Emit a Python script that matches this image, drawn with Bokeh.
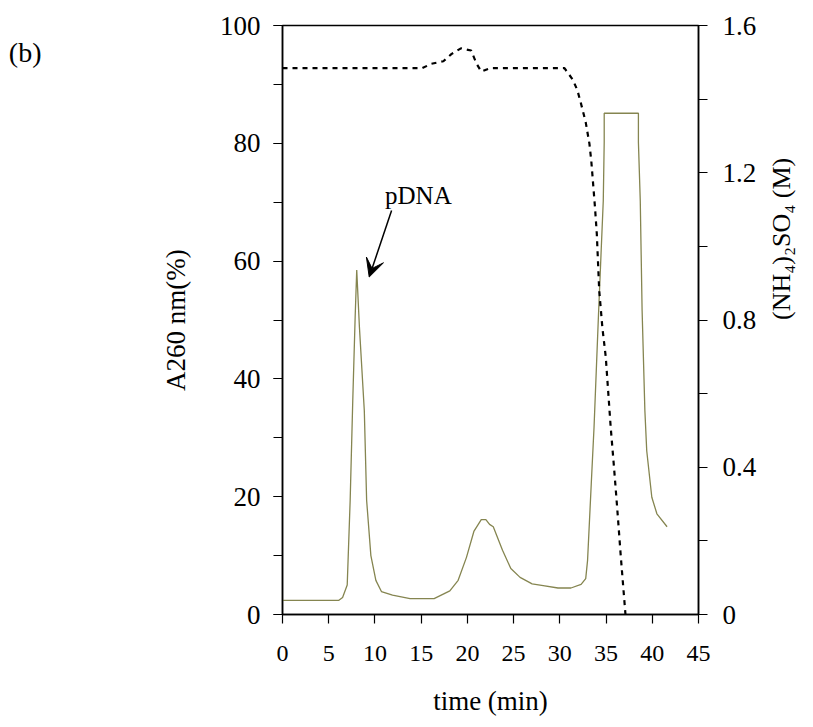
import math
from bokeh.plotting import figure
from bokeh.models import (Range1d, LinearAxis, SingleIntervalTicker, FixedTicker,
                          Label, Arrow, VeeHead)
from bokeh.embed import file_html
from bokeh.resources import INLINE

# ---- data ----
# A260 absorbance trace (%), left axis
a260_time = [0, 6.1, 6.5, 7.0, 7.32, 7.6, 7.86, 8.03, 8.32, 8.85, 9.1, 9.56, 10.1, 10.7,
             11.9, 13.8, 16.4, 18.1, 19.0, 19.9, 20.7, 21.5, 22.0, 22.4, 22.8, 23.8,
             24.7, 25.7, 27.0, 28.2, 29.8, 31.2, 32.3, 32.8, 33.0, 33.4, 33.7, 34.2,
             34.7, 34.8, 34.8, 38.5, 38.5, 38.7, 38.9, 39.2, 39.4, 39.95, 40.5, 41.6]
a260_value = [2.4, 2.4, 2.9, 5.0, 19.4, 36.3, 50.5, 58.5, 48.8, 34.6, 19.4, 10.0, 5.8, 3.9,
              3.3, 2.7, 2.7, 4.0, 5.8, 9.7, 14.1, 16.1, 16.1, 15.3, 14.9, 10.9,
              7.8, 6.3, 5.2, 4.9, 4.5, 4.5, 5.1, 6.1, 9.2, 22.2, 31.8, 51.6,
              70.3, 80.2, 85.1, 85.1, 80.2, 70.3, 51.6, 34.6, 27.8, 19.9, 17.1, 14.9]

# (NH4)2SO4 gradient (M), right axis
salt_time = [0, 15.1, 16.1, 17.4, 18.3, 19.3, 20.4, 21.0, 21.5, 22.5, 30.5, 31.4, 31.9,
             32.3, 32.8, 33.2, 33.4, 33.6, 33.8, 34.0, 34.26, 34.6, 34.97, 35.3, 35.5,
             35.86, 36.2, 36.6, 37.1]
salt_value = [1.484, 1.484, 1.496, 1.503, 1.523, 1.538, 1.532, 1.496, 1.475, 1.484, 1.484,
              1.453, 1.424, 1.387, 1.337, 1.279, 1.233, 1.170, 1.107, 1.034, 0.880, 0.780,
              0.699, 0.581, 0.509, 0.400, 0.291, 0.156, 0.0]

x_ticks_interval = 5
left_tick_interval = 20
right_ticks = [0, 0.4, 0.8, 1.2, 1.6]
right_minor_ticks = [0.2, 0.6, 1.0, 1.4]

FONT = "Liberation Serif"

p = figure(width=813, height=725, x_range=Range1d(0, 45), y_range=Range1d(0, 100),
           output_backend="svg", toolbar_location=None,
           min_border_left=282, min_border_right=109, min_border_top=25,
           min_border_bottom=111)
p.extra_y_ranges = {"salt": Range1d(0, 1.6)}
p.xgrid.visible = False
p.ygrid.visible = False
p.outline_line_color = "black"
p.outline_line_width = 1.5
p.background_fill_color = "white"
p.border_fill_color = "white"

# bottom axis
xa = p.xaxis[0]
xa.ticker = SingleIntervalTicker(interval=x_ticks_interval, num_minor_ticks=0)
xa.axis_label = "time (min)"

# left axis
ya = p.yaxis[0]
ya.ticker = SingleIntervalTicker(interval=left_tick_interval, num_minor_ticks=2)
ya.axis_label = "A260 nm(%)"

# right axis
ra = LinearAxis(y_range_name="salt",
                ticker=FixedTicker(ticks=right_ticks, minor_ticks=right_minor_ticks))
ra.major_label_overrides = {0: "0"}
ra.axis_label = "(NH\u2084)\u2082SO\u2084 (M)"
p.add_layout(ra, "right")

for ax in (xa, ya, ra):
    ax.axis_line_color = "black"
    ax.axis_line_width = 1.5
    ax.major_tick_line_color = "black"
    ax.minor_tick_line_color = "black"
    ax.major_tick_line_width = 1.2
    ax.minor_tick_line_width = 1.2
    ax.major_tick_in = 0
    ax.minor_tick_in = 0
    ax.major_tick_out = 9
    ax.minor_tick_out = 9
    ax.major_label_text_font = FONT
    ax.major_label_text_color = "black"
    ax.axis_label_text_font = FONT
    ax.axis_label_text_font_style = "normal"
    ax.axis_label_text_color = "black"
    ax.axis_label_text_font_size = "27px"

xa.major_label_text_font_size = "24px"
xa.major_label_standoff = 22
xa.axis_label_standoff = 22
ya.major_label_text_font_size = "27px"
ya.major_label_standoff = 13
ya.axis_label_standoff = 26
ra.major_label_text_font_size = "27px"
ra.major_label_standoff = 15
ra.axis_label_standoff = 22
ra.axis_label_text_font_size = "26px"
ra.axis_label_orientation = math.pi / 2

# panel tag "(b)": tick-less outer left axis whose label sits at the top
ba = LinearAxis(ticker=FixedTicker(ticks=[]))
ba.axis_line_color = None
ba.major_tick_line_color = None
ba.minor_tick_line_color = None
ba.major_tick_out = 0
ba.minor_tick_out = 0
ba.major_label_standoff = 0
ba.axis_label = "(b)" + "\n" * 16
ba.axis_label_text_font = FONT
ba.axis_label_text_font_style = "normal"
ba.axis_label_text_font_size = "28px"
ba.axis_label_text_line_height = 1.08
ba.axis_label_text_color = "black"
ba.axis_label_orientation = "horizontal"
ba.axis_label_standoff = 116
p.add_layout(ba, "left")

# curves
p.line(a260_time, a260_value, line_color="#858550", line_width=1.3)
p.line(salt_time, salt_value, y_range_name="salt", line_color="black",
       line_width=2.2, line_dash="5 5")

# annotations
p.add_layout(Label(x=11.09, y=71.1, text="pDNA", text_font=FONT, text_font_size="25px",
                   text_align="left", text_baseline="alphabetic", text_color="black"))
p.add_layout(Arrow(x_start=11.8, y_start=68.6, x_end=9.38, y_end=57.3,
                   line_color="black", line_width=1.5,
                   end=VeeHead(size=18, fill_color="black", line_color="black")))

open("out.html", "w").write(file_html(p, INLINE))
